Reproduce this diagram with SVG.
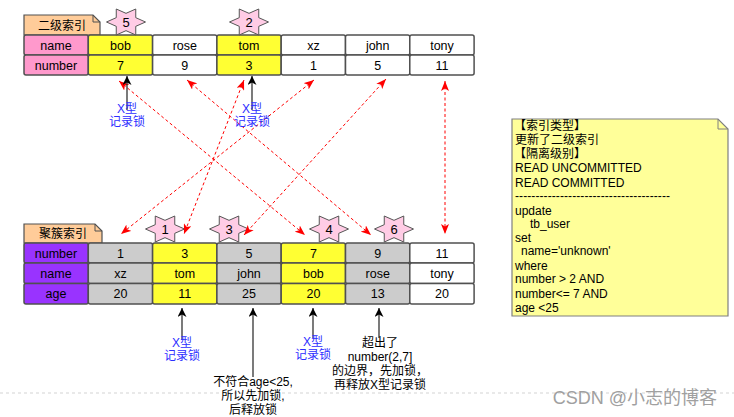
<svg xmlns="http://www.w3.org/2000/svg" width="734" height="417" viewBox="0 0 734 417">
<style>
text{font-family:"Liberation Sans","Noto Sans CJK SC",Arial,sans-serif;fill:#000}
.c{font-size:12.5px;text-anchor:middle}
.cell{stroke:#505050;stroke-width:1.5}
.w{fill:#fff}.y{fill:#FFFF33}.g{fill:#CCCCCC}.pk{fill:#FF99CC}.pu{fill:#9933FF}
.tab{fill:#FFCC99;stroke:#505050;stroke-width:1.2}
.tt{font-size:12px;text-anchor:middle}
.star{fill:#FFCCE5;stroke:#555;stroke-width:1}
.sn{font-size:13px;text-anchor:middle}
.red{stroke:#FF0000;stroke-width:1;stroke-dasharray:3,2.5;fill:none;marker-start:url(#ra);marker-end:url(#ra)}
.blk{stroke:#333;stroke-width:1.3;fill:none;marker-end:url(#ba)}
.bl{font-size:12px;text-anchor:middle;fill:#2E2EFF}
.bk{font-size:12px;text-anchor:middle}
.nt{font-size:12px}
</style>
<defs>
<marker id="ra" markerUnits="userSpaceOnUse" markerWidth="10" markerHeight="8" refX="10" refY="4" orient="auto-start-reverse" viewBox="0 0 10 8"><path d="M0,0 L10,4 L0,8 L2.5,4 Z" fill="#FF0000"/></marker>
<marker id="ba" markerUnits="userSpaceOnUse" markerWidth="9" markerHeight="9" refX="9" refY="4.5" orient="auto" viewBox="0 0 9 9"><path d="M0,0 L9,4.5 L0,9 L2.5,4.5 Z" fill="#000"/></marker>
<path id="star" d="M19.5,0 L9.75,4.33 L9.75,13 L0,8.66 L-9.75,13 L-9.75,4.33 L-19.5,0 L-9.75,-4.33 L-9.75,-13 L0,-8.66 L9.75,-13 L9.75,-4.33 Z"/>
</defs>
<rect width="734" height="417" fill="#fff"/>
<line x1="0" y1="393" x2="734" y2="393" stroke="#D4D4D4" stroke-width="1.2" stroke-dasharray="3,3"/>

<g id="secondary-index">
<path class="tab" d="M24,35 V15 H93 L100,22 V35 Z"/><path d="M93,15 V22 H100" fill="none" stroke="#505050" stroke-width="1"/>
<text class="tt" x="62" y="29.5">二级索引</text>
<rect class="cell pk" x="24" y="35" width="64.3" height="20" rx="2"/>
<rect class="cell y" x="88.3" y="35" width="64.3" height="20" rx="2"/>
<rect class="cell w" x="152.6" y="35" width="64.3" height="20" rx="2"/>
<rect class="cell y" x="216.9" y="35" width="64.3" height="20" rx="2"/>
<rect class="cell w" x="281.2" y="35" width="64.3" height="20" rx="2"/>
<rect class="cell w" x="345.5" y="35" width="64.3" height="20" rx="2"/>
<rect class="cell w" x="409.8" y="35" width="64.3" height="20" rx="2"/>
<rect class="cell pk" x="24" y="55" width="64.3" height="20" rx="2"/>
<rect class="cell y" x="88.3" y="55" width="64.3" height="20" rx="2"/>
<rect class="cell w" x="152.6" y="55" width="64.3" height="20" rx="2"/>
<rect class="cell y" x="216.9" y="55" width="64.3" height="20" rx="2"/>
<rect class="cell w" x="281.2" y="55" width="64.3" height="20" rx="2"/>
<rect class="cell w" x="345.5" y="55" width="64.3" height="20" rx="2"/>
<rect class="cell w" x="409.8" y="55" width="64.3" height="20" rx="2"/>
<text class="c" x="56" y="49.5">name</text><text class="c" x="120.5" y="49.5">bob</text><text class="c" x="184.8" y="49.5">rose</text><text class="c" x="249" y="49.5">tom</text><text class="c" x="313.4" y="49.5">xz</text><text class="c" x="377.7" y="49.5">john</text><text class="c" x="442" y="49.5">tony</text>
<text class="c" x="56" y="69.5">number</text><text class="c" x="120.5" y="69.5">7</text><text class="c" x="184.8" y="69.5">9</text><text class="c" x="249" y="69.5">3</text><text class="c" x="313.4" y="69.5">1</text><text class="c" x="377.7" y="69.5">5</text><text class="c" x="442" y="69.5">11</text>
</g>

<g id="clustered-index">
<path class="tab" d="M24,243 V224 H95 L102,231 V243 Z"/><path d="M95,224 V231 H102" fill="none" stroke="#505050" stroke-width="1"/>
<text class="tt" x="63" y="238">聚簇索引</text>
<rect class="cell pu" x="24" y="243" width="64.3" height="20" rx="2"/>
<rect class="cell g" x="88.3" y="243" width="64.3" height="20" rx="2"/>
<rect class="cell y" x="152.6" y="243" width="64.3" height="20" rx="2"/>
<rect class="cell g" x="216.9" y="243" width="64.3" height="20" rx="2"/>
<rect class="cell y" x="281.2" y="243" width="64.3" height="20" rx="2"/>
<rect class="cell g" x="345.5" y="243" width="64.3" height="20" rx="2"/>
<rect class="cell w" x="409.8" y="243" width="64.3" height="20" rx="2"/>
<rect class="cell pu" x="24" y="263" width="64.3" height="20.5" rx="2"/>
<rect class="cell g" x="88.3" y="263" width="64.3" height="20.5" rx="2"/>
<rect class="cell y" x="152.6" y="263" width="64.3" height="20.5" rx="2"/>
<rect class="cell g" x="216.9" y="263" width="64.3" height="20.5" rx="2"/>
<rect class="cell y" x="281.2" y="263" width="64.3" height="20.5" rx="2"/>
<rect class="cell g" x="345.5" y="263" width="64.3" height="20.5" rx="2"/>
<rect class="cell w" x="409.8" y="263" width="64.3" height="20.5" rx="2"/>
<rect class="cell pu" x="24" y="283.5" width="64.3" height="20.5" rx="2"/>
<rect class="cell g" x="88.3" y="283.5" width="64.3" height="20.5" rx="2"/>
<rect class="cell y" x="152.6" y="283.5" width="64.3" height="20.5" rx="2"/>
<rect class="cell g" x="216.9" y="283.5" width="64.3" height="20.5" rx="2"/>
<rect class="cell y" x="281.2" y="283.5" width="64.3" height="20.5" rx="2"/>
<rect class="cell g" x="345.5" y="283.5" width="64.3" height="20.5" rx="2"/>
<rect class="cell w" x="409.8" y="283.5" width="64.3" height="20.5" rx="2"/>
<text class="c" x="56" y="257.5">number</text><text class="c" x="120.5" y="257.5">1</text><text class="c" x="184.8" y="257.5">3</text><text class="c" x="249" y="257.5">5</text><text class="c" x="313.4" y="257.5">7</text><text class="c" x="377.7" y="257.5">9</text><text class="c" x="442" y="257.5">11</text>
<text class="c" x="56" y="277.7">name</text><text class="c" x="120.5" y="277.7">xz</text><text class="c" x="184.8" y="277.7">tom</text><text class="c" x="249" y="277.7">john</text><text class="c" x="313.4" y="277.7">bob</text><text class="c" x="377.7" y="277.7">rose</text><text class="c" x="442" y="277.7">tony</text>
<text class="c" x="56" y="298.2">age</text><text class="c" x="120.5" y="298.2">20</text><text class="c" x="184.8" y="298.2">11</text><text class="c" x="249" y="298.2">25</text><text class="c" x="313.4" y="298.2">20</text><text class="c" x="377.7" y="298.2">13</text><text class="c" x="442" y="298.2">20</text>
</g>

<g id="star-5"><use href="#star" class="star" x="126" y="22"/><text class="sn" x="126" y="26.5">5</text></g>
<g id="star-2"><use href="#star" class="star" x="249" y="22"/><text class="sn" x="249" y="26.5">2</text></g>
<g id="star-1"><use href="#star" class="star" x="165" y="229"/><text class="sn" x="165" y="233.5">1</text></g>
<g id="star-3"><use href="#star" class="star" x="229" y="229"/><text class="sn" x="229" y="233.5">3</text></g>
<g id="star-4"><use href="#star" class="star" x="329" y="229"/><text class="sn" x="329" y="233.5">4</text></g>
<g id="star-6"><use href="#star" class="star" x="394" y="229"/><text class="sn" x="394" y="233.5">6</text></g>

<g id="connectors">
<line class="red" x1="119" y1="81" x2="305" y2="235"/>
<line class="red" x1="187" y1="80" x2="371" y2="235"/>
<line class="red" x1="244" y1="80" x2="184" y2="234"/>
<line class="red" x1="314" y1="80" x2="121" y2="234"/>
<line class="red" x1="386" y1="79" x2="244" y2="235"/>
<line class="red" x1="445" y1="81" x2="445" y2="234"/>
<line class="blk" x1="127" y1="110" x2="127" y2="76"/>
<line class="blk" x1="252" y1="110" x2="252" y2="76"/>
<line class="blk" x1="182" y1="340" x2="182" y2="308"/>
<line class="blk" x1="253" y1="377" x2="253" y2="308"/>
<line class="blk" x1="313" y1="338" x2="313" y2="308"/>
<line class="blk" x1="379" y1="338" x2="379" y2="308"/>
</g>

<g id="label-top-1"><text class="bl" x="127" y="112.5">X型</text><text class="bl" x="127" y="125.5">记录锁</text></g>
<g id="label-top-2"><text class="bl" x="252" y="112.5">X型</text><text class="bl" x="252" y="125.5">记录锁</text></g>
<g id="label-bot-1"><text class="bl" x="182" y="347">X型</text><text class="bl" x="182" y="360">记录锁</text></g>
<g id="label-bot-2"><text class="bk" x="253" y="386">不符合age&lt;25,</text><text class="bk" x="253" y="400">所以先加锁,</text><text class="bk" x="253" y="413.5">后释放锁</text></g>
<g id="label-bot-3"><text class="bl" x="313" y="346">X型</text><text class="bl" x="313" y="358.5">记录锁</text></g>
<g id="label-bot-4"><text class="bk" x="380" y="347">超出了</text><text class="bk" x="380" y="361">number(2,7]</text><text class="bk" x="380" y="375">的边界，先加锁，</text><text class="bk" x="380" y="388.5">再释放X型记录锁</text></g>

<g id="note">
<path d="M512,119 H718 L728,129 V316 H512 Z" fill="#FFFF99" stroke="#808080" stroke-width="1.2"/>
<path d="M718,119 V129 H728" fill="none" stroke="#808080" stroke-width="1"/>
<text class="nt" x="514" y="130">【索引类型】</text>
<text class="nt" x="515" y="144">更新了二级索引</text>
<text class="nt" x="514" y="158">【隔离级别】</text>
<text class="nt" x="515" y="172">READ UNCOMMITTED</text>
<text class="nt" x="515" y="186.5">READ COMMITTED</text>
<text class="nt" x="515" y="200" textLength="155" lengthAdjust="spacing">--------------------------------------</text>
<text class="nt" x="515" y="214.5">update</text>
<text class="nt" x="530" y="228">tb_user</text>
<text class="nt" x="515" y="241.5">set</text>
<text class="nt" x="521" y="255">name='unknown'</text>
<text class="nt" x="515" y="269.5">where</text>
<text class="nt" x="515" y="283">number &gt; 2 AND</text>
<text class="nt" x="515" y="297.5">number&lt;= 7 AND</text>
<text class="nt" x="515" y="311.5">age &lt;25</text>
</g>

<text x="717" y="404" style="font-size:18px;text-anchor:end;fill:#A0A0A0">CSDN @小志的博客</text>
</svg>
